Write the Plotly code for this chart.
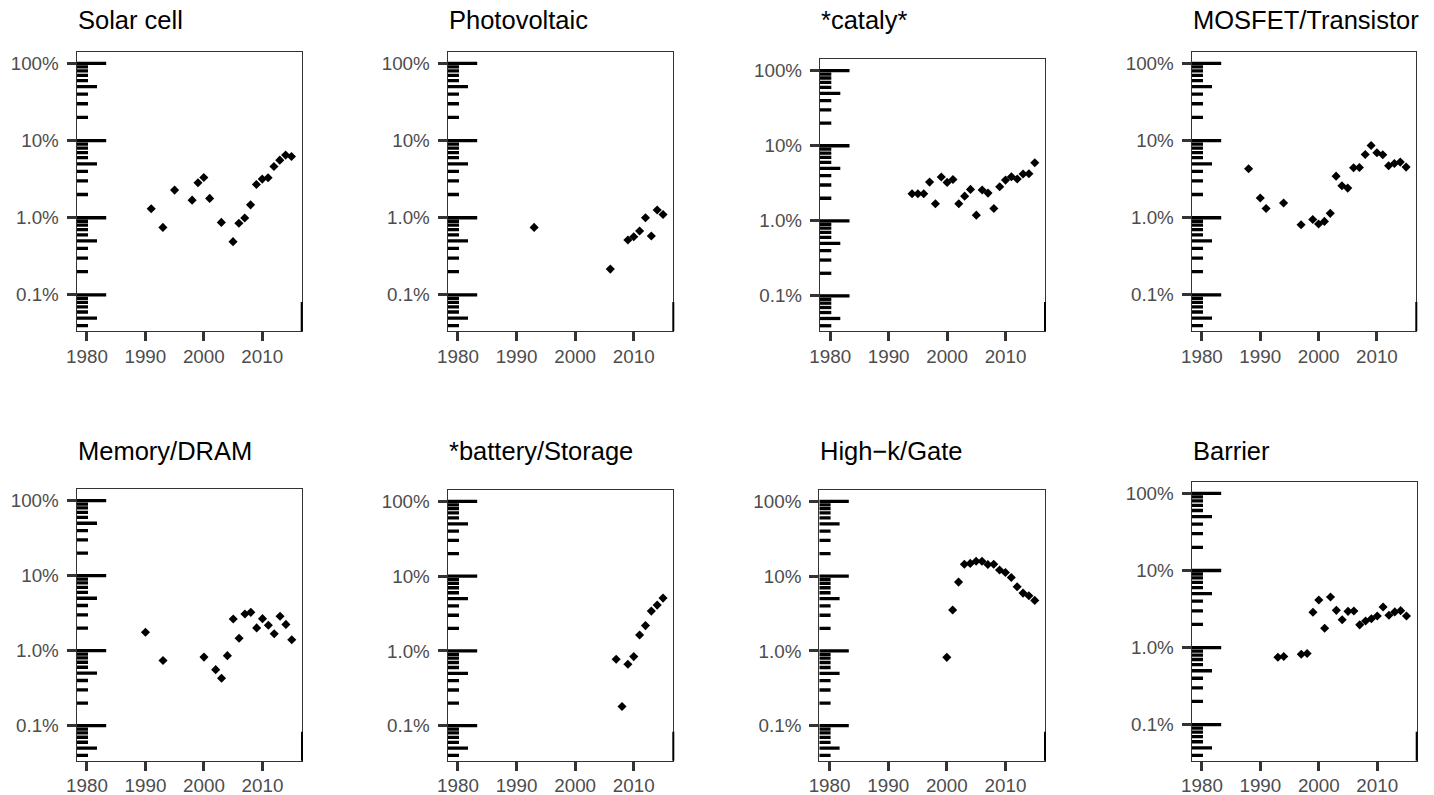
import plotly.graph_objects as go

W, H = 1434, 795

# ---- data: share of publications per year (percent) ----
titles = ["Solar cell", "Photovoltaic", "*cataly*", "MOSFET/Transistor",
          "Memory/DRAM", "*battery/Storage", "High\u2212k/Gate", "Barrier"]

solar_years = [1991, 1993, 1995, 1998, 1999, 2000, 2001, 2003, 2005, 2006,
               2007, 2008, 2009, 2010, 2011, 2012, 2013, 2014, 2015]
solar_pct = [1.31, 0.75, 2.28, 1.69, 2.84, 3.33, 1.78, 0.87, 0.49, 0.85,
             0.99, 1.47, 2.70, 3.17, 3.30, 4.62, 5.58, 6.48, 6.22]

pv_years = [1993, 2006, 2009, 2010, 2011, 2012, 2013, 2014, 2015]
pv_pct = [0.75, 0.216, 0.514, 0.568, 0.672, 1.0, 0.58, 1.26, 1.10]

cataly_years = [1994, 1995, 1996, 1997, 1998, 1999, 2000, 2001, 2002, 2003, 2004,
                2005, 2006, 2007, 2008, 2009, 2010, 2011, 2012, 2013, 2014, 2015]
cataly_pct = [2.29, 2.29, 2.29, 3.28, 1.69, 3.83, 3.25, 3.56, 1.69, 2.13, 2.62,
              1.19, 2.57, 2.34, 1.46, 2.84, 3.49, 3.87, 3.60, 4.20, 4.24, 5.95]

mosfet_years = [1988, 1990, 1991, 1994, 1997, 1999, 2000, 2001, 2002, 2003, 2004,
                2005, 2006, 2007, 2008, 2009, 2010, 2011, 2012, 2013, 2014, 2015]
mosfet_pct = [4.31, 1.80, 1.32, 1.55, 0.81, 0.95, 0.83, 0.897, 1.14, 3.46, 2.60,
              2.42, 4.44, 4.48, 6.61, 8.64, 6.94, 6.54, 4.71, 5.05, 5.26, 4.53]

memory_years = [1990, 1993, 2000, 2002, 2003, 2004, 2005, 2006, 2007, 2008, 2009,
                2010, 2011, 2012, 2013, 2014, 2015]
memory_pct = [1.76, 0.74, 0.82, 0.558, 0.428, 0.858, 2.64, 1.46, 3.08, 3.24, 2.01,
              2.67, 2.18, 1.68, 2.87, 2.24, 1.40]

battery_years = [2007, 2008, 2009, 2010, 2011, 2012, 2013, 2014, 2015]
battery_pct = [0.774, 0.181, 0.664, 0.84, 1.63, 2.18, 3.41, 4.10, 5.09]

highk_years = [2000, 2001, 2002, 2003, 2004, 2005, 2006, 2007, 2008, 2009, 2010,
               2011, 2012, 2013, 2014, 2015]
highk_pct = [0.82, 3.52, 8.32, 14.45, 14.8, 15.85, 15.85, 14.3, 14.45, 12.1, 11.2,
             9.6, 7.2, 5.93, 5.47, 4.74]

barrier_years = [1993, 1994, 1997, 1998, 1999, 2000, 2001, 2002, 2003, 2004, 2005,
                 2006, 2007, 2008, 2009, 2010, 2011, 2012, 2013, 2014, 2015]
barrier_pct = [0.75, 0.764, 0.82, 0.836, 2.87, 4.14, 1.78, 4.53, 3.04, 2.30, 2.95,
               2.98, 1.97, 2.21, 2.37, 2.57, 3.36, 2.62, 2.90, 3.01, 2.57]

series = [(solar_years, solar_pct), (pv_years, pv_pct), (cataly_years, cataly_pct),
          (mosfet_years, mosfet_pct), (memory_years, memory_pct),
          (battery_years, battery_pct), (highk_years, highk_pct),
          (barrier_years, barrier_pct)]

x_tick_vals = [1980, 1990, 2000, 2010]
x_tick_text = ["1980", "1990", "2000", "2010"]
y_tick_vals = [0.1, 1, 10, 100]
y_tick_text = ["0.1%", "1.0%", "10%", "100%"]

# ---- layout geometry (pixels: left, right, top, bottom) ----
panels = [
    (76.7, 301.7, 51.7, 331.0), (447.7, 673.3, 51.7, 331.0),
    (820.0, 1045.0, 59.3, 331.0), (1191.7, 1416.3, 51.7, 331.0),
    (76.7, 302.0, 489.3, 760.7), (447.7, 673.3, 490.0, 760.7),
    (819.3, 1045.0, 490.0, 760.7), (1191.7, 1416.7, 481.7, 760.7),
]
title_mid_y = [19.7, 19.7, 19.7, 19.7, 450.5, 450.5, 450.5, 450.5]

X_RANGE = [1978.25, 2016.75]
Y_RANGE = [-1.468, 2.152]   # log10 of percent

FONT = "Liberation Sans, Arial, Helvetica, sans-serif"

fig = go.Figure()
layout = dict(width=W, height=H, margin=dict(l=0, r=0, t=0, b=0, autoexpand=False),
              paper_bgcolor="white", plot_bgcolor="white", showlegend=False,
              font=dict(family=FONT))
annotations = []
shapes = []

for i, ((xs, ys), (l, r, t, b)) in enumerate(zip(series, panels)):
    n = i + 1
    xa = "x" if n == 1 else f"x{n}"
    ya = "y" if n == 1 else f"y{n}"
    xkey = "xaxis" if n == 1 else f"xaxis{n}"
    ykey = "yaxis" if n == 1 else f"yaxis{n}"

    px_per_year = (r - l) / (X_RANGE[1] - X_RANGE[0])

    # log-scale rug ticks along the left edge (1 = long, 5 = mid, rest short)
    lx, ly = [], []
    for k in range(-2, 3):
        for m in range(1, 10):
            v = m * 10 ** k
            if v < 10 ** Y_RANGE[0] or v > 10 ** Y_RANGE[1]:
                continue
            length = 29.5 if m == 1 else (20.3 if m == 5 else 11.3)
            lx += [X_RANGE[0], X_RANGE[0] + length / px_per_year, None]
            ly += [v, v, None]
    fig.add_trace(go.Scatter(x=lx, y=ly, mode="lines", xaxis=xa, yaxis=ya,
                             line=dict(color="black", width=3.3),
                             hoverinfo="skip"))

    fig.add_trace(go.Scatter(x=xs, y=ys, mode="markers", xaxis=xa, yaxis=ya,
                             marker=dict(symbol="diamond", size=7, color="black",
                                         line=dict(width=0))))

    axis_common = dict(showgrid=False, zeroline=False, showline=True, mirror=True,
                       automargin=False,
                       linecolor="#333333", linewidth=1.3, ticks="outside",
                       ticklen=9, tickwidth=3, tickcolor="#333333",
                       tickfont=dict(size=18.8, color="#4D4D4D", family=FONT))
    layout[xkey] = dict(domain=[l / W, r / W], range=X_RANGE, anchor=ya,
                        tickmode="array", tickvals=x_tick_vals,
                        ticktext=x_tick_text, ticklabelstandoff=-1,
                        **axis_common)
    layout[ykey] = dict(domain=[1 - b / H, 1 - t / H], range=Y_RANGE, type="log",
                        anchor=xa, tickmode="array", tickvals=y_tick_vals,
                        ticktext=y_tick_text, ticklabelstandoff=4,
                        **axis_common)

    annotations.append(dict(text=titles[i], xref="paper", yref="paper",
                            x=l / W, y=1 - title_mid_y[i] / H,
                            xanchor="left", yanchor="middle", showarrow=False,
                            borderpad=0,
                            font=dict(size=25.5, color="black", family=FONT)))
    # darker stub on the right border near the bottom
    shapes.append(dict(type="line", xref="paper", yref="paper",
                       x0=r / W, x1=r / W, y0=1 - b / H, y1=1 - (b - 29) / H,
                       line=dict(color="black", width=2)))

layout["annotations"] = annotations
layout["shapes"] = shapes
fig.update_layout(**layout)
fig.write_html("out.html")
